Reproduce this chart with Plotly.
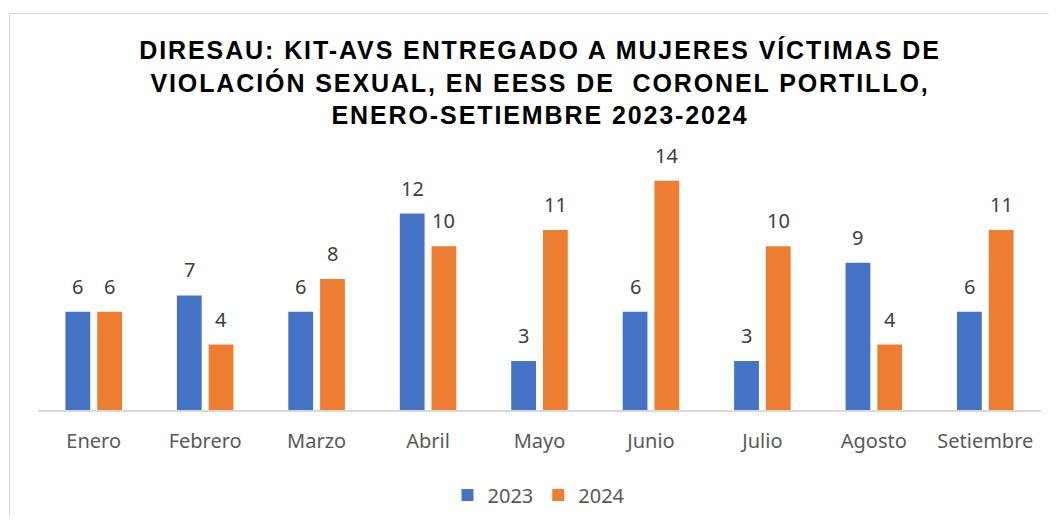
import plotly.graph_objects as go

months = ["Enero", "Febrero", "Marzo", "Abril", "Mayo", "Junio", "Julio", "Agosto", "Setiembre"]
v2023 = [6, 7, 6, 12, 3, 6, 3, 9, 6]
v2024 = [6, 4, 8, 10, 11, 14, 10, 4, 11]
series_names = ["2023", "2024"]
colors = ["#4472C4", "#ED7D31"]
title_lines = [
    "DIRESAU: KIT-AVS ENTREGADO A MUJERES VÍCTIMAS DE",
    "VIOLACIÓN SEXUAL, EN EESS DE  CORONEL PORTILLO,",
    "ENERO-SETIEMBRE 2023-2024",
]

# page has an 8px body margin, so the figure is sized to the remaining area
W, H = 1041, 507
L, R, T, B = 30, 8, 140, 105
bargap = 0.43
bargroupgap = 0.22
ymax = 16

label_font = "Noto Sans, Open Sans, sans-serif"

fig = go.Figure()
for name, vals, col in zip(series_names, [v2023, v2024], colors):
    fig.add_trace(go.Bar(x=months, y=vals, name=name, marker=dict(color=col, line=dict(width=0))))

# data labels above bars, offset according to grouped bar geometry
slot = (1 - bargap) / 2
for k, vals in enumerate([v2023, v2024]):
    off = (k - 0.5) * slot
    for i, v in enumerate(vals):
        fig.add_annotation(x=i + off, y=v, xref="x", yref="y", text=str(v), showarrow=False,
                           yanchor="bottom", yshift=10,
                           font=dict(family=label_font, size=20, color="#404040"))

pw = W - L - R
ph = H - T - B
fig.add_shape(type="rect", xref="paper", yref="paper",
              x0=(1.5 - L) / pw, x1=(W + 10 - L) / pw,
              y0=-(H + 10 - (H - B)) / ph, y1=((H - B) - 5.5) / ph,
              line=dict(color="#D9D9D9", width=1.2), fillcolor="rgba(0,0,0,0)", layer="below")

title_text = "<br>".join(
    '<span style="letter-spacing:1.9px">' + t + "</span>" for t in title_lines
)

fig.update_layout(
    width=W, height=H,
    margin=dict(l=L, r=R, t=T, b=B),
    paper_bgcolor="white", plot_bgcolor="white",
    barmode="group", bargap=bargap, bargroupgap=bargroupgap,
    title=dict(text=title_text, x=532 / W, xanchor="center", y=1 - 51 / H, yanchor="top",
               xref="container", yref="container",
               font=dict(family="Liberation Sans, Arial, sans-serif", size=25, color="#000000", weight="bold")),
    xaxis=dict(showline=True, linecolor="#D9D9D9", linewidth=1.5, ticks="", showgrid=False,
               tickfont=dict(family=label_font, size=20, color="#595959"), ticklabelstandoff=12,
               range=[-0.5, len(months) - 0.5]),
    yaxis=dict(visible=False, range=[0, ymax], showgrid=False, zeroline=False),
    legend=dict(orientation="h", x=531 / W, xanchor="center", xref="container",
                y=1 - 487 / H, yanchor="middle", yref="container",
                font=dict(family=label_font, size=20, color="#595959"), itemwidth=30, traceorder="normal"),
    showlegend=True,
)

fig.write_html("out.html")
